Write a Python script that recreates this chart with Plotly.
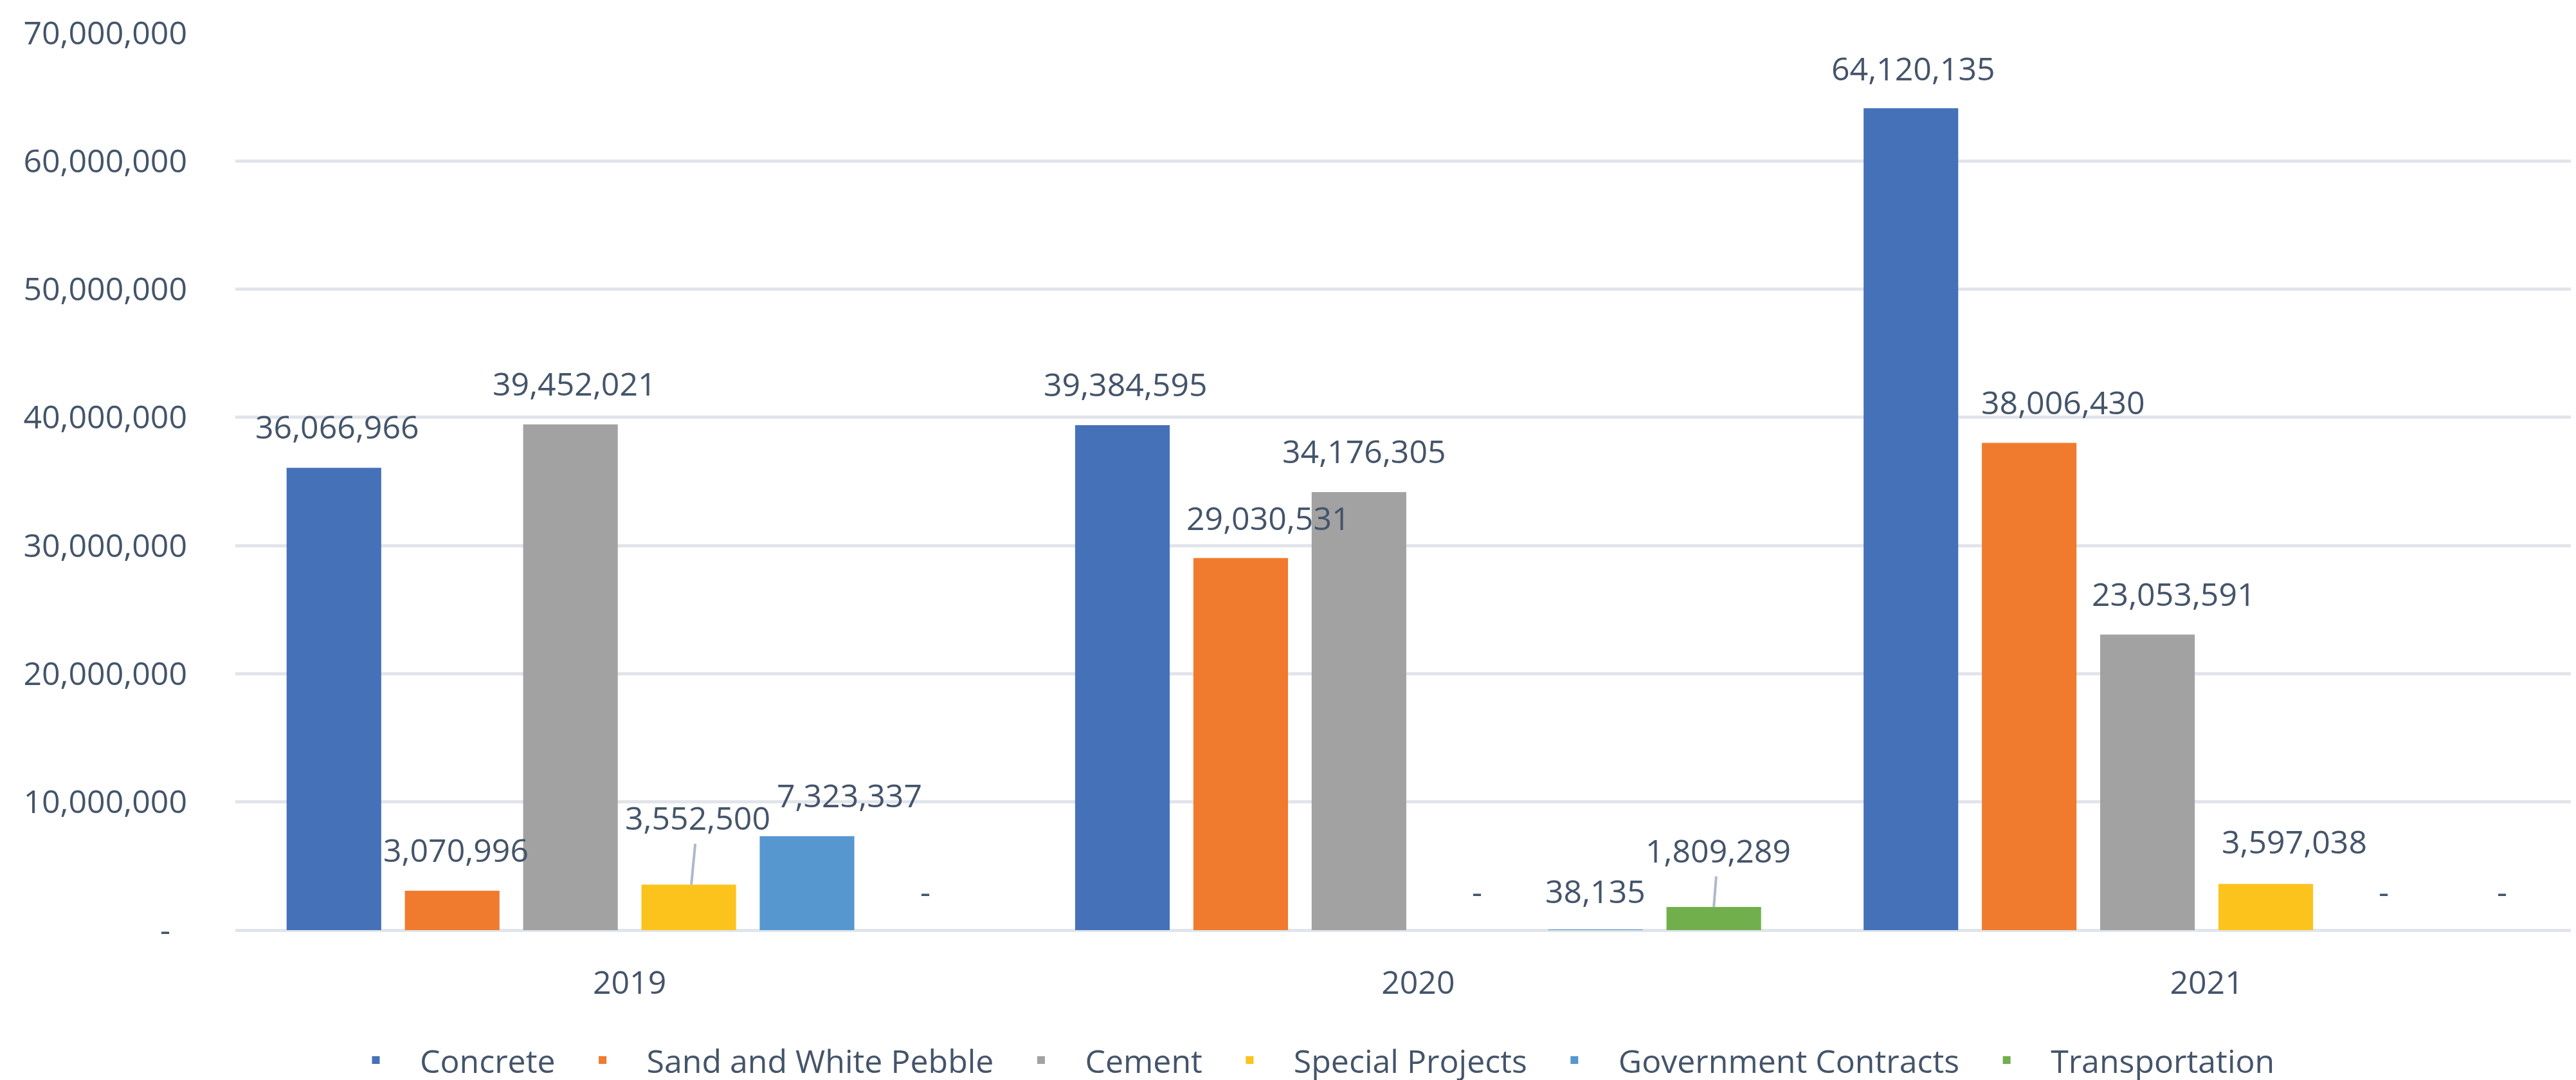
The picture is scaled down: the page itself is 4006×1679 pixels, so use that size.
import plotly.graph_objects as go

# ---------------- data ----------------
years = ["2019", "2020", "2021"]
series_names = ["Concrete", "Sand and White Pebble", "Cement", "Special Projects",
                "Government Contracts", "Transportation"]
concrete = [36066966, 39384595, 64120135]
sand_white_pebble = [3070996, 29030531, 38006430]
cement = [39452021, 34176305, 23053591]
special_projects = [3552500, 0, 3597038]
government_contracts = [7323337, 38135, 0]
transportation = [0, 1809289, 0]

y_tick_values = [0, 10000000, 20000000, 30000000, 40000000, 50000000, 60000000, 70000000]
y_tick_labels = ["-\u00a0\u00a0", "10,000,000", "20,000,000", "30,000,000", "40,000,000",
                 "50,000,000", "60,000,000", "70,000,000"]

series_values = [concrete, sand_white_pebble, cement, special_projects,
                 government_contracts, transportation]

# ---------------- style ----------------
colors = ["#4571B9", "#F07B2E", "#A2A2A2", "#FCC31C", "#5697D0", "#70AF4B"]
text_color = "#44546A"
grid_color = "#E1E5EB"
font_family = "Open Sans"
font_size = 50

W, H = 4006, 1679
margin_l, margin_r, margin_t, margin_b = 358, 0, 43, 232
x_range = [-0.5, 2.475]
bargap = 0.1
bargroupgap = 0.2

plot_w = W - margin_l - margin_r
cat_px = plot_w / (x_range[1] - x_range[0])
slot_px = cat_px * (1 - bargap) / len(series_names)

# label offsets (px) per [series][year]: (dx, dy above bar top)
label_dx = [[5, 5, 4], [6, 43, 53], [6, 8, 41], [14, 0, 44], [66, 0, 0], [0, 7, 0]]
label_dy = [[64, 64, 62], [64, 62, 64], [64, 64, 64], [104, 60, 66], [64, 60, 60], [60, 88, 60]]
leader = {(3, 0): (4, 10), (5, 1): (0, 7)}  # (series, year): (tip dx, text ax)

fig = go.Figure()
for i, (name, vals) in enumerate(zip(series_names, series_values)):
    fig.add_trace(go.Bar(
        name=name, x=years, y=vals,
        marker=dict(color=colors[i], line=dict(width=0)),
        hoverinfo="x+y+name",
    ))

label_font = dict(family=font_family, size=font_size, color=text_color)
for i, vals in enumerate(series_values):
    for j, v in enumerate(vals):
        txt = f"{v:,.0f}" if v else "-"
        base_shift = float((i - (len(series_names) - 1) / 2) * slot_px)
        if (i, j) in leader:
            tip_dx, ax = leader[(i, j)]
            fig.add_annotation(
                x=j, y=v, xref="x", yref="y", text=txt,
                showarrow=True, arrowhead=0, arrowwidth=4, arrowcolor="#ADB9CA",
                standoff=0, borderpad=6,
                ax=ax, ay=-label_dy[i][j], xshift=base_shift + tip_dx,
                font=label_font,
            )
        else:
            fig.add_annotation(
                x=j, y=v, xref="x", yref="y", text=txt, showarrow=False,
                xanchor="center", yanchor="middle",
                xshift=base_shift + label_dx[i][j], yshift=label_dy[i][j],
                font=label_font,
            )

fig.update_layout(
    width=W, height=H,
    margin=dict(l=margin_l, r=margin_r, t=margin_t, b=margin_b, pad=0),
    paper_bgcolor="white", plot_bgcolor="white",
    barmode="group", bargap=bargap, bargroupgap=bargroupgap,
    font=dict(family=font_family, size=font_size, color=text_color),
    showlegend=True,
    legend=dict(orientation="h", x=0.456, xanchor="center", y=-0.145, yanchor="middle",
                font=dict(family=font_family, size=font_size, color=text_color),
                itemwidth=127, traceorder="normal"),
)
fig.update_xaxes(type="category", categoryorder="array", categoryarray=years,
                 range=x_range, showgrid=False, zeroline=False, showline=False,
                 ticks="", ticklabelstandoff=48,
                 tickfont=dict(family=font_family, size=font_size, color=text_color))
fig.update_yaxes(range=[0, 70000000], tickvals=y_tick_values, ticktext=y_tick_labels,
                 showgrid=True, gridcolor=grid_color, gridwidth=5,
                 zeroline=True, zerolinecolor=grid_color, zerolinewidth=5,
                 showline=False, ticks="", ticklabelstandoff=74,
                 tickfont=dict(family=font_family, size=font_size, color=text_color))

fig.write_html("out.html")
